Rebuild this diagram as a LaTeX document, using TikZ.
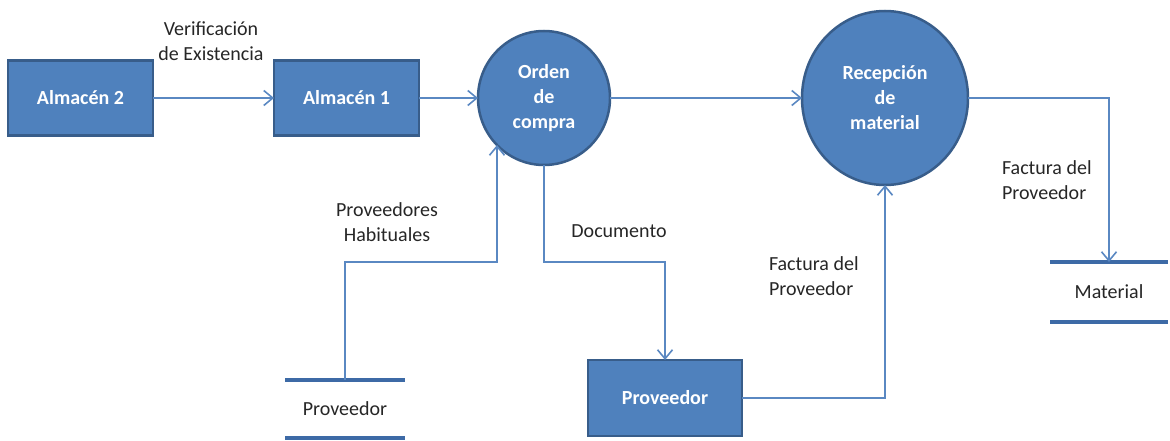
\documentclass[tikz,border=0pt]{standalone}
\usepackage{fontspec}
\setmainfont{Carlito}
\usetikzlibrary{arrows.meta,shapes.geometric}
\definecolor{procfill}{HTML}{4F81BD}
\definecolor{procedge}{HTML}{385D8A}
\definecolor{flowline}{HTML}{5A88C2}
\definecolor{storeline}{HTML}{3D6AA6}
\definecolor{labeltext}{HTML}{262626}
\begin{document}
\begin{tikzpicture}[x=1pt,y=-1pt,
  every node/.style={inner sep=0pt,outer sep=0pt},
  procbox/.style={rectangle,draw=procedge,fill=procfill,line width=2.5pt,
    minimum width=145pt,minimum height=75pt,text=white,
    font=\fontsize{20}{24}\selectfont\bfseries},
  procell/.style={ellipse,draw=procedge,fill=procfill,line width=2.5pt,
    text=white,align=center,font=\fontsize{20}{25}\selectfont\bfseries},
  flowlabel/.style={text=labeltext,font=\fontsize{20}{25}\selectfont},
  datastore/.style={minimum width=120pt,text=labeltext,
    font=\fontsize{20}{25}\selectfont},
  storebar/.style={draw=storeline,line width=4pt},
  flow/.style={draw=flowline,line width=1.6pt,
    -{Straight Barb[length=9pt,width=15pt]}},
]
\useasboundingbox (0,0) rectangle (1170,441);

% processes and external entities
\node[procbox] (alm2) at (80.5,98) {Almacén 2};
\node[procbox] (alm1) at (346.5,98) {Almacén 1};
\node[procell,minimum width=132pt,minimum height=134pt] (orden) at (544,98)
  {Orden\\de\\compra};
\node[procell,minimum width=166pt,minimum height=174pt] (recep) at (885,98)
  {Recepción\\de\\material};
\node[procbox,minimum width=154pt,minimum height=76pt] (prov) at (665,398) {Proveedor};

% data stores
\node[datastore,minimum height=58pt] (pstore) at (345,409) {Proveedor};
\draw[storebar] (pstore.north west) -- (pstore.north east);
\draw[storebar] (pstore.south west) -- (pstore.south east);
\node[datastore,minimum height=60pt,minimum width=118pt] (mat) at (1109,292) {Material};
\draw[storebar] (mat.north west) -- (mat.north east);
\draw[storebar] (mat.south west) -- (mat.south east);

% routing row for the lower connectors
\coordinate (lowrow) at (0,262);

% flows
\draw[flow] (alm2) -- (alm1);
\draw[flow] (alm1) -- (orden);
\draw[flow] (orden) -- (recep);
\draw[flow] (pstore.north) |- (lowrow -| orden.225) -- (orden.225);
\draw[flow] (orden.south) |- (lowrow -| prov.north) -- (prov.north);
\draw[flow] (prov.east) -| (recep.south);
\draw[flow] (recep.east) -| (mat.north);

% flow labels
\node[flowlabel,align=center] (lverif) at (211,41) {Verificación\\de Existencia};
\node[flowlabel,align=center] (lhab) at (387,222) {Proveedores\\Habituales};
\node[flowlabel] (ldoc) at (619,231) {Documento};
\node[flowlabel,align=left,anchor=west] (lfact1) at (769,276) {Factura del\\Proveedor};
\node[flowlabel,align=left,anchor=west] (lfact2) at (1002,180) {Factura del\\Proveedor};
\end{tikzpicture}
\end{document}
